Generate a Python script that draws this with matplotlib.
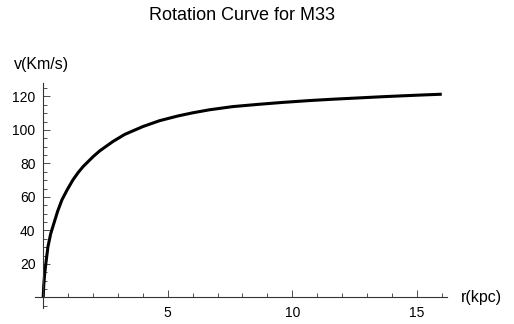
import numpy as np
import matplotlib
matplotlib.use("Agg")
import matplotlib.pyplot as plt
from matplotlib.ticker import MultipleLocator, FixedLocator

# values
r_kpc = [0, 0.02, 0.06, 0.12, 0.19, 0.3, 0.43, 0.58, 0.75, 0.96, 1.19, 1.4,
         1.6, 2.0, 2.27, 2.8, 3.27, 4.0, 4.67, 5.4, 6.0, 6.67, 7.6, 8.67,
         9.6, 10.67, 11.6, 12.67, 13.6, 14.5, 15.3, 16.0]
v_kms = [0, 7, 14.4, 22, 30.3, 38, 44.3, 51.5, 58.2, 64.2, 70.1, 74.5,
         78.1, 84, 87.5, 93.1, 97.3, 102, 105.5, 108.3, 110.2, 112, 113.9, 115.3,
         116.4, 117.5, 118.3, 119.1, 119.8, 120.4, 120.9, 121.3]
x_major = [5, 10, 15]
y_major = [20, 40, 60, 80, 100, 120]

plt.rcParams['font.family'] = ['Liberation Sans', 'DejaVu Sans']

fig = plt.figure(figsize=(5.14, 3.24), dpi=100)
ax = fig.add_axes([35 / 514, 16 / 324, 412 / 514, 225 / 324])

ax.plot(r_kpc, v_kms, color='black', lw=2.2, solid_capstyle='butt',
        solid_joinstyle='round')

ax.set_xlim(-0.33, 16.21)
ax.set_ylim(-6.3, 128)

for s in ['top', 'right']:
    ax.spines[s].set_visible(False)
ax.spines['left'].set_position(('data', 0))
ax.spines['bottom'].set_position(('data', 0))
for s in ['left', 'bottom']:
    ax.spines[s].set_linewidth(0.8)
    ax.spines[s].set_color('#333333')

ax.xaxis.set_major_locator(FixedLocator(x_major))
ax.yaxis.set_major_locator(FixedLocator(y_major))
ax.xaxis.set_minor_locator(MultipleLocator(1))
ax.yaxis.set_minor_locator(MultipleLocator(5))
ax.tick_params(which='both', direction='in', color='#333333', width=0.6,
               labelsize=10)
ax.tick_params(axis='x', which='major', pad=6.5)
ax.tick_params(axis='y', which='major', pad=5.5)
ax.tick_params(which='major', length=5)
ax.tick_params(which='minor', length=3)

fig.text(461 / 514, 1 - 297.5 / 324, 'r(kpc)', fontsize=11.5, va='center', ha='left')
fig.text(14 / 514, 1 - 64 / 324, 'v(Km/s)', fontsize=11.5, va='center', ha='left')
fig.text(242 / 514, 1 - 15 / 324, 'Rotation Curve for M33', fontsize=13,
         va='center', ha='center')

fig.savefig('out.png', dpi=100)
